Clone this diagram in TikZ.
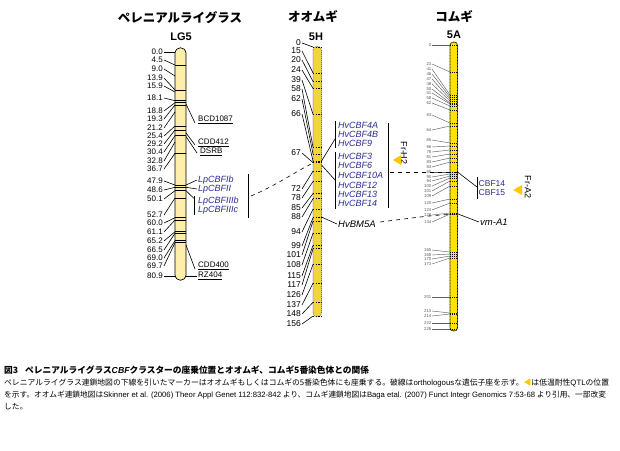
\documentclass[tikz,border=0pt]{standalone}
\usepackage{fontspec}
\setmainfont{Liberation Sans}
\newfontfamily\jp{Noto Sans CJK JP}
\usetikzlibrary{calc}
\definecolor{cbfblue}{RGB}{45,45,150}
\definecolor{ryefill}{RGB}{255,238,170}
\definecolor{barfill}{RGB}{242,212,60}
\definecolor{wfill}{RGB}{255,226,0}
\definecolor{qtl}{RGB}{255,200,0}
\definecolor{wgray}{RGB}{95,95,95}
\begin{document}
\begin{tikzpicture}[x=1pt,y=-1pt,
  conn/.style={line width=0.6pt},
  wconn/.style={line width=0.45pt,wgray},
  rnum/.style={anchor=east,inner sep=1pt,font=\fontsize{8}{8}\selectfont},
  bnum/.style={anchor=east,inner sep=1pt,font=\fontsize{8.5}{8.5}\selectfont},
  wnum/.style={anchor=east,inner sep=0.5pt,font=\fontsize{4.3}{4.3}\selectfont,wgray},
  mk/.style={anchor=west,inner sep=1pt,font=\fontsize{8}{8}\selectfont},
  cbf/.style={anchor=west,inner sep=1pt,font=\fontsize{9}{9}\selectfont\itshape,cbfblue},
  gene/.style={anchor=west,inner sep=1pt,font=\fontsize{9.5}{9.5}\selectfont\itshape},
  ttl/.style={font=\jp\bfseries\fontsize{12.5}{12.5}\selectfont,inner sep=0},
  ttl2/.style={font=\bfseries\fontsize{11}{11}\selectfont,inner sep=0},
  qtlmark/.style={fill=qtl,draw=none},
  dsh/.style={line width=0.6pt,dash pattern=on 4pt off 4pt},
  captxt/.style={anchor=west,inner sep=0,font=\jp\fontsize{7.9}{7.9}\selectfont}]
\useasboundingbox (0,0) rectangle (620,450);
\fill[white] (0,0) rectangle (620,450);

% ---------- titles
\node[ttl] (t1) at (180,18) {ペレニアルライグラス};
\node[ttl2] (t1b) at (181,37) {LG5};
\node[ttl] (t2) at (313,17) {オオムギ};
\node[ttl2] (t2b) at (316,37) {5H};
\node[ttl] (t3) at (454,17) {コムギ};
\node[ttl2] (t3b) at (454,35) {5A};

% ---------- ryegrass bar
\draw[line width=0.7pt,fill=ryefill] (175,53) .. controls (176,46) and (185,46) .. (186,53)
  -- (186,275) .. controls (185,282) and (176,282) .. (175,275) -- cycle;
\foreach \y in {65,90,100.7,102.7,105,126,130,135.7,153.3,185,187.3,190.7,198,217.7,220,231.7,233.3,240.7,242.7}
  \draw[line width=0.8pt] (175,\y) -- (186,\y);
\foreach \lab/\ly/\ty [count=\i] in {0.0/52/52, 4.5/60/65, 9.0/69/76, 13.9/78/90, 15.9/86/92, 18.1/98/100.7, 18.8/111/102.7, 19.3/119/105, 21.2/128/112, 25.4/136/126, 29.2/144/130, 30.4/152/135.7, 32.8/161/142, 36.7/169/153.3, 47.9/181/185, 48.6/190/187.3, 50.1/199/190.7, 52.7/215/198, 60.0/223/217.7, 61.1/232/220, 65.2/241/231.7, 66.5/250/233.3, 69.0/258/240.7, 69.7/266/242.7, 80.9/276/276}
{
  \node[rnum] (rl\i) at (164,\ly) {\lab};
  \coordinate (rt\i) at (175,\ty);
  \draw[conn] (rl\i.east) -- (rt\i);
}
% right side markers
\node[mk] (bcd) at (197,120) {\underline{BCD1087}};
\node[mk] (cdd) at (197,143) {\underline{CDD412}};
\node[mk] (dsrb) at (199,152) {\underline{DSRB}};
\node[mk] (cdd4) at (197,266) {\underline{CDD400}};
\node[mk] (rz) at (197,276) {\underline{RZ404}};
\coordinate (rb1) at (186,104);
\coordinate (rb2) at (186,133);
\coordinate (rb3) at (186,136.5);
\coordinate (rb4) at (186,245);
\coordinate (rb5) at (186,276);
\draw[conn] (rb1) -- ([xshift=-2pt,yshift=-3pt]bcd.west);
\draw[conn] (rb2) -- ([xshift=-2pt,yshift=-2pt]cdd.west);
\draw[conn] (rb3) -- ([xshift=-2pt,yshift=-1pt]dsrb.west);
\draw[conn] (rb4) -- ([xshift=-2pt,yshift=-3pt]cdd4.west);
\draw[conn] (rb5) -- (rz.west);

\node[cbf] (lp1) at (197,180) {LpCBFIb};
\node[cbf] (lp2) at (197,189) {LpCBFII};
\node[cbf] (lp3) at (197,201) {LpCBFIIIb};
\node[cbf] (lp4) at (197,210) {LpCBFIIIc};
\coordinate (lpb1) at (194,196);
\coordinate (lpb2) at (194,215);
\draw[conn] (lpb1) -- (lpb2);
\coordinate (rc1) at (186,185);
\coordinate (rc2) at (186,187.3);
\coordinate (rc3) at (186,190.7);
\coordinate (lpbm) at (194,198.5);
\draw[conn] (rc1) -- (lp1.west);
\draw[conn] (rc2) -- (lp2.west);
\draw[conn] (rc3) -- (lpbm);
\coordinate (rv1) at (248,174);
\coordinate (rv2) at (248,218);
\draw[conn] (rv1) -- (rv2);

% ---------- barley bar
\fill[barfill] (313,50) .. controls (313,45) and (321.5,45) .. (321.5,50) -- (321.5,313)
  .. controls (321.5,318) and (313,318) .. (313,313) -- cycle;
\draw[line width=0.6pt,black!55,dash pattern=on 1.2pt off 0.8pt] (313,50) .. controls (313,45) and (321.5,45) .. (321.5,50) -- (321.5,313)
  .. controls (321.5,318) and (313,318) .. (313,313) -- cycle;
\foreach \lab/\ly [count=\i] in {0/43,15/51,20/60,24/70,39/80,58/89,62/99,66/114,67/153,72/189,78/198,85/208,88/217,94/232,99/246,101/255,108/265,115/276,117/285,126/295,137/305,148/314,156/324}
{
  \pgfmathsetmacro\ty{47+1.725*\lab}
  \node[bnum] (bl\i) at (302,\ly) {\lab};
  \coordinate (bt\i) at (313,\ty);
  \draw[conn] (bl\i.east) -- (bt\i);
  \draw[line width=0.7pt,dash pattern=on 1.4pt off 1.2pt] (313,\ty) -- (321.5,\ty);
}

\node[cbf] (h1) at (337,125) {HvCBF4A};
\node[cbf] (h2) at (337,134) {HvCBF4B};
\node[cbf] (h3) at (337,143) {HvCBF9};
\node[cbf] (h4) at (337,156) {HvCBF3};
\node[cbf] (h5) at (337,165) {HvCBF6};
\node[cbf] (h6) at (337,175) {HvCBF10A};
\node[cbf] (h7) at (337,185) {HvCBF12};
\node[cbf] (h8) at (337,194) {HvCBF13};
\node[cbf] (h9) at (337,203) {HvCBF14};
\coordinate (hb1) at (335,121);
\coordinate (hb2) at (335,148);
\coordinate (hb3) at (335,152);
\coordinate (hb4) at (335,209);
\draw[conn] (hb1) -- (hb2);
\draw[conn] (hb3) -- (hb4);
\coordinate (hr1) at (388,123);
\coordinate (hr2) at (388,208);
\draw[conn] (hr1) -- (hr2);
\coordinate (bc1) at (321.5,161);
\coordinate (bc2) at (321.5,165);
\coordinate (hbm1) at (335,139);
\coordinate (hbm2) at (335,180);
\draw[conn] (bc1) -- (hbm1);
\draw[conn] (bc2) -- (hbm2);

\node[gene] (bm5a) at (337,224) {HvBM5A};
\coordinate (bc3) at (321.5,217);
\draw[conn] (bc3) -- (bm5a.west);

% Fr-H2
\node[inner sep=0,font=\fontsize{9}{9}\selectfont,rotate=-90] (frh2) at (404,153) {Fr-H2};
\draw[qtlmark] (393,160) -- (401,155) -- (401,165) -- cycle;

% ---------- wheat bar
\fill[wfill] (450,45) .. controls (450,41) and (457.5,41) .. (457.5,45) -- (457.5,328)
  .. controls (457.5,332) and (450,332) .. (450,328) -- cycle;
\draw[line width=0.7pt,dash pattern=on 1pt off 0.5pt] (450,45) .. controls (450,41) and (457.5,41) .. (457.5,45) -- (457.5,328)
  .. controls (457.5,332) and (450,332) .. (450,328) -- cycle;
\foreach \lab/\ly/\ty [count=\i] in {0/45/45, 23/64/72, 41/69/95, 46/74/97, 47/79/99, 48/84/101, 50/89/103, 51/93/104, 58/98/106, 62/103/110, 63/115/123, 64/130/126, 65/140/143, 66/147/146, 78/152/150, 81/157/154, 83/162/158, 84/167/162, 85/172/172, 90/177/174, 94/181/176, 100/186/178, 101/191/181, 109/196/186, 120/203/199, 124/210/203, 128/215/213, 134/222/214, 165/250/252, 168/255/254, 170/259/256, 173/264/258, 201/297/297, 213/311/313, 214/316/314, 222/323/323, 226/329/329}
{
  \node[wnum] (wl\i) at (432,\ly) {\lab};
  \coordinate (wt\i) at (450,\ty);
  \draw[wconn] (wl\i.east) -- (wt\i);
  \draw[line width=0.5pt,dash pattern=on 1pt off 1pt] (450,\ty) -- (457.5,\ty);
}
\node[anchor=west,inner sep=0.5pt,font=\fontsize{8.5}{8.5}\selectfont,cbfblue] (c14) at (478,184) {CBF14};
\node[anchor=west,inner sep=0.5pt,font=\fontsize{8.5}{8.5}\selectfont,cbfblue] (c15) at (478,193) {CBF15};
\coordinate (cb1) at (477,177);
\coordinate (cb2) at (477,199);
\draw[conn] (cb1) -- (cb2);
\coordinate (wc1) at (457.5,172);
\coordinate (cbm) at (477,187);
\draw[conn] (wc1) -- (cbm);
\node[gene] (vm) at (479,222) {vm-A1};
\coordinate (wc2) at (458,214);
\draw[conn] (wc2) -- (vm.west);
\node[inner sep=0,font=\fontsize{9}{9}\selectfont,rotate=-90] (fra2) at (528,187) {Fr-A2};
\draw[qtlmark] (513,190) -- (522,185) -- (522,195) -- cycle;

% ---------- dashed orthology lines
\coordinate (d1) at (251,196);
\coordinate (d2) at (313,163);
\draw[dsh] (d1) .. controls (275,186) and (295,172) .. (d2);
\coordinate (d3) at (390,172);
\draw[dsh] (d3) -- (wc1);
\coordinate (d4) at (380,222);
\draw[dsh] (d4) .. controls (405,219) and (430,215) .. (wc2);

% ---------- caption
\node[captxt,font=\jp\bfseries\fontsize{8.7}{8.7}\selectfont] (cap1) at (4,370) {図3\hspace{0.8em}ペレニアルライグラス{\rmfamily\bfseries\itshape CBF}クラスターの座乗位置とオオムギ、コムギ5番染色体との関係};
\node[captxt,font=\jp\fontsize{7.8}{7.8}\selectfont] (cap2) at (4,383) {ペレニアルライグラス連鎖地図の下線を引いたマーカーはオオムギもしくはコムギの5番染色体にも座乗する。破線は{\rmfamily orthologous}な遺伝子座を示す。{\color{qtl}◀}は低温耐性{\rmfamily QTL}の位置};
\node[captxt,font=\jp\fontsize{7.7}{7.7}\selectfont] (cap3) at (4,395) {を示す。オオムギ連鎖地図は{\rmfamily Skinner et al. (2006) Theor Appl Genet 112:832-842} より、コムギ連鎖地図は{\rmfamily Baga etal. (2007) Funct Integr Genomics 7:53-68} より引用、一部改変};
\node[captxt,font=\jp\fontsize{7.8}{7.8}\selectfont] (cap4) at (4,407) {した。};
\end{tikzpicture}
\end{document}
